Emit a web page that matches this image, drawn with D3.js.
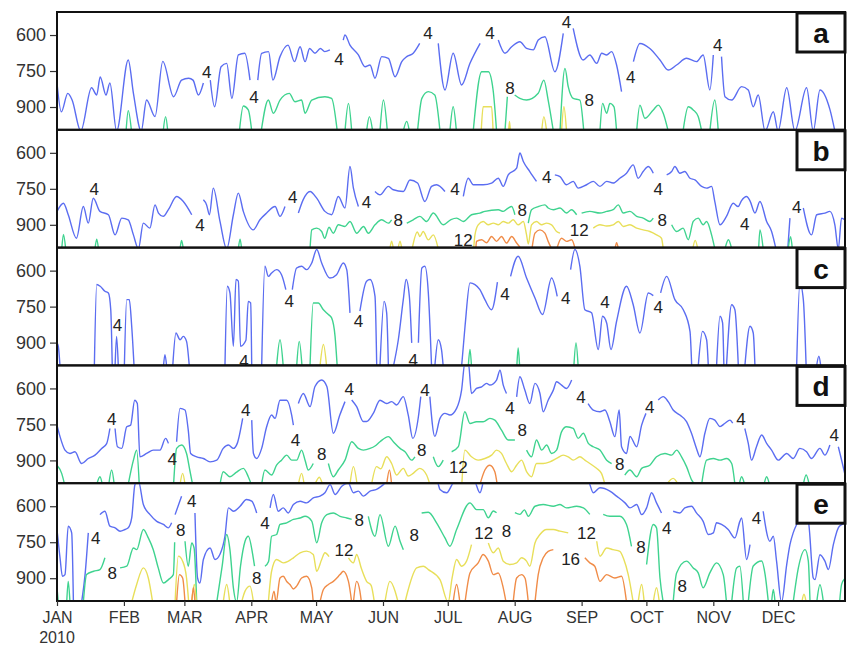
<!DOCTYPE html>
<html lang="en">
<head>
  <meta charset="UTF-8">
  <title>Contour time series</title>
  <style>
    body { margin: 0; background: #fff; }
    svg text { font-family: "Liberation Sans", Arial, sans-serif; }
  </style>
  <script src="https://d3js.org/d3.v7.min.js"></script>
</head>
<body>
<div id="chart"></div>
<script>
  // Month ticks (day of year, 2010) and labels
  var monthDays = [0, 31, 59, 90, 120, 151, 181, 212, 243, 273, 304, 334];
  var monthLabels = ["JAN", "FEB", "MAR", "APR", "MAY", "JUN", "JUL", "AUG", "SEP", "OCT", "NOV", "DEC"];
  var yearLabel = "2010";
  var pressureTicks = [600, 750, 900];
  var panelNames = ["a", "b", "c", "d", "e"];

  // Contour lines as [day of year, hPa]; null breaks the line
  var a4 = [[0,800],[2,920],[5,843],[7,871],[11,1000],[16,820],[18.4,850],[20,775],[22.7,850],[24.5,800],[27.6,1000],[33,704],[35.4,843],[39,1000],[41.5,871],[45.4,940],[49,710],[54,857],[57.7,788],[61,780],[63,788],[65.5,850],[67.8,800],null,
    [71,788],[73,899],[76,732],[78.6,718],[81,864],[84,683],[87,676],[89.4,788],null,
    [93,788],[94.8,676],[98,669],[100,788],[103.3,690],[107,642],[110,711],[112.6,649],[114.9,711],[117,656],[119.5,676],[122,656],[124,669],[126.4,662],null,
    [132.6,621],[133.4,600],[135.7,642],[139.6,683],[142.7,732],[145,725],[147.3,780],[150.4,690],[153.5,697],[156.6,774],[159.7,711],[162,690],[165,676],[168,635],null,
    [176.6,635],[179.7,829],[183.5,676],[187.4,808],[191.3,718],[196,635],null,
    [204.4,621],[207.5,676],[210.6,649],[214.4,628],[217.5,656],[220.6,662],[222.9,621],[226,607],[230.6,753],[234.5,593],null,
    [239.1,572],[243.7,704],[246.8,683],[250,718],[252.3,676],[254.6,683],[256.9,669],[259.2,725],[261.5,836],null,
    [267,711],[270,635],[274.6,656],[279.3,704],[283.1,746],[287,725],[291.6,697],[296.2,711],[299.3,683],[302.4,829],[304,683],null,
    [307.8,690],[309.4,857],[312.5,871],[317.1,815],[320.2,829],[322.5,899],[324.8,850],[328,1000],[331.8,920],[334,1000],[338,820],[341.8,1000],[347.2,820],[350.3,1000],[353.4,829],[358,910],[360.3,1000]];
  var a8 = [[32,1000],[33,915],[34.5,1000],null,
    [49.2,1000],[50.3,940],[51.3,1000],null,
    [84.5,1000],[86.3,896],[88.6,912],[90.2,1000],null,
    [94.6,1000],[97.9,871],[100.2,926],[103.3,871],[107.6,843],[110.2,878],[113.3,871],[114.9,926],[118,871],[124.1,857],[127.2,864],[129.8,1000],null,
    [133.4,1000],[135,885],[136.5,1000],null,
    [143.4,1000],[144.7,940],[146.2,1000],null,
    [149.6,1000],[151.2,871],[153,1000],null,
    [160.4,1000],[162,960],[163.2,1000],null,
    [167,1000],[169,864],[172,836],[175,850],[177.4,1000],null,
    [182,1000],[183.5,899],[185,1000],null,
    [192.8,1000],[196.7,753],[199.8,753],[202,829],[203.6,1000],null,
    [207.5,1000],[208.6,857],null,
    [212,850],[214.4,864],[217.5,871],[222.9,843],[225.5,788],[227.5,871],[229.9,1000],null,
    [233,1000],[235.3,739],[236.8,815],[239.1,864],[242.2,871],[244,1000],null,
    [251.5,1000],[252.7,885],[254.6,926],[256.1,885],[258,899],[259.2,1000],null,
    [268.5,1000],[270,892],[272.3,947],[276.2,912],[278.5,892],[280.8,926],[283.1,1000],null,
    [290,1000],[292.4,899],[294.7,912],[297,940],[298.6,1000],null,
    [302.4,1000],[304.7,871],[306.3,1000]];
  var a12 = [[196.5,1000],[197.4,899],[201.3,899],[202,1000],null,
    [209.2,1000],[209.6,960],[210,1000],null,
    [224.5,1000],[225.5,940],[226.8,1000],null,
    [233.7,1000],[234.8,899],[236,1000]];

  var b4 = [[0,844],[3,810],[5.2,858],[9,956],[12.2,824],[14.5,893],[16.8,789],[19.9,844],[23.8,858],[26.9,942],[30,872],[33,879],[35.4,942],[37.7,1000],[40,893],[43,914],[45.4,817],[47,851],[49.2,865],[51.6,837],[55.4,782],[58.5,803],[62.4,858],null,
    [67.8,796],[69.3,817],[70.6,858],[72.4,747],[75.5,886],[78.6,1000],[81.7,858],[84,768],[86.3,844],[90.9,921],[94,879],[97.1,851],[101,824],[103.3,865],[105.6,824],null,
    [111.8,851],[114,796],[117.2,761],[120.3,789],[124.1,844],[127.2,858],[130.3,782],[133.4,830],[135.7,657],[137.3,747],[139.6,824],null,
    [147.3,761],[149.6,775],[153.5,740],[155.8,754],[160.4,761],[163.5,713],[167,726],[170.4,803],[173.5,740],[175.8,733],[179.7,761],null,
    [188.2,782],[190.5,706],[192.8,733],[197.4,733],[201.3,726],[204.4,706],[206.7,740],[209,692],[212.9,664],[214.4,601],[216,636],[219,678],[222.1,719],null,
    [230.6,692],[233,699],[236,733],[239.1,719],[241.4,747],[245.3,733],[248.4,719],[251.5,740],[254.6,719],[257.6,726],[260.7,706],[263.8,685],[266.9,650],[269.2,706],[271.5,678],[273.9,657],[276.2,685],null,
    [282.4,692],[284.7,678],[286.2,657],[288.5,685],[290.8,678],[293.2,706],[295.5,713],[298.6,740],[300.9,747],[303.2,740],[304.7,803],[307.1,900],[310.1,865],[313.2,810],[315.5,824],[317,800],[319.4,782],[321,800],[323.3,851],[325.6,803],[328.7,886],[331,928],[333,1000],null,
    [338.5,1000],[339.5,872],null,
    [345.7,830],[349.5,942],[351.9,858],[355.7,851],[358,844],[360.3,900],[361.9,1000],[363.4,872],[365,880]];
  var b8 = [[2.2,1000],[3,940],[4,1000],null,
    [17.6,1000],[18.4,960],[19.2,1000],null,
    [57,1000],[57.7,965],[58.5,1000],null,
    [84,1000],[84.8,960],[85.5,1000],null,
    [117.2,1000],[118,921],[120.3,914],[122.6,928],[124,956],[126,910],[128,935],[130.3,900],[133.4,907],[135.7,886],[138.8,935],[142,907],[144.2,935],[147.3,900],[150.4,879],[153.5,893],[155,879],null,
    [162,893],[165,879],[168.1,865],[171.2,886],[174.3,851],[178.9,900],[182.5,878],[185.1,872],[188.2,886],[192,858],[195.9,851],[198.2,844],[204.4,837],[206.7,844],[209,830],[210.6,824],[212.1,858],null,
    [218.3,893],[219.8,837],[222.9,824],[226,817],[227.5,830],[229.9,837],[233,830],[236,851],[238.3,837],[240.7,858],null,
    [243,851],[246.8,844],[251.5,851],[254.6,844],[257.6,837],[260,817],[262.3,851],[265.4,844],[268.5,865],[271.5,872],[274.6,886],[276.2,872],null,
    [284.7,900],[287,928],[290,914],[292.4,962],[294.7,886],[297,872],[299.3,900],[300.9,886],[303.2,942],[304.7,1000],null,
    [309.4,1000],[311,962],[312.5,1000],null,
    [325,1000],[325.6,921],[327.1,1000],null,
    [338.7,1000],[339.8,950],[340.6,1000]];
  var b12 = [[154.2,1000],[155,968],[155.8,1000],null,
    [158,1000],[158.9,968],[159.7,1000],null,
    [164.5,1000],[166.9,930],[168.1,949],[169.6,928],[172,963],[174.3,942],[176.6,1000],null,
    [193,1000],[193.6,942],[195.1,900],[197.4,886],[199.8,900],[202.1,893],[204.4,900],[206.7,886],[209,893],[211.3,879],[213.6,900],[216,886],[217.5,942],[218.3,980],[219.8,900],[222.1,886],[224.5,900],[226.8,893],[229.1,900],[231.4,928],[233,935],null,
    [248.4,914],[251.5,900],[254.6,905],[257.6,900],[260,886],[262.3,907],[265.4,900],[268.5,914],[271.5,921],[274.6,928],[277.7,942],[280,956],[280.8,1000],null,
    [294.5,1000],[295.6,965],[296.8,1000]];
  var b16 = [[194,1000],[194.3,969],[196.7,962],[199,975],[201.3,949],[203.6,969],[205.9,949],[208.2,976],[210.6,949],[212.9,976],[215,1000],null,
    [220,1000],[221.4,935],[223.7,921],[226,935],[227.5,969],[229.1,1000],null,
    [231.5,1000],[233.7,956],[236,969],[238.4,962],[240,1000],null,
    [258.5,1000],[259.2,975],[260,1000]];

  var c4 = [[0,901],[0.6,915],[1.4,1000],null,
    [17.3,1000],[18.4,658],[20,665],[22.2,686],[23.8,693],[24.9,763],[25.6,1000],null,
    [26.9,1000],[27.6,874],[28.4,1000],null,
    [31.2,1000],[32.3,721],[33.5,721],[34.6,832],[35.7,1000],null,
    [49.3,1000],[50,950],[50.8,1000],null,
    [53.6,1000],[55.1,860],[57,888],[58.5,874],[60,895],[61.3,1000],null,
    [77.8,1000],[78.9,665],[80.1,693],[81.7,915],[82.9,637],[84,644],[85,915],[87.5,890],[88.6,728],[89.7,735],[90.2,1000],null,
    [94.8,1000],[96.3,582],[97.9,624],[99.4,610],[101.7,596],[104,617],[106,679],null,
    [109,679],[111,589],[113.3,582],[115.6,596],[118,568],[120.3,512],[122.6,568],[126.4,631],[129.5,617],[132.6,568],[134.2,596],[135.7,776],null,
    [140.3,769],[143.4,644],[145,637],[147.3,707],[148.1,1000],null,
    [149.6,1000],[151.5,728],[152.7,776],[153.5,1000],null,
    [155.8,1000],[158.1,888],[160.4,721],[161.7,637],[163.2,707],[164.3,901],null,
    [167.4,901],[169,589],[170.4,582],[172,693],[173.5,1000],null,
    [175,1000],[176.6,888],[178.1,929],[178.9,1000],null,
    [187.4,1000],[189,832],[191.3,651],[193.6,658],[195.9,679],[198.2,721],[201.3,763],[204,648],null,
    [210.1,624],[213.6,540],[217.5,631],[221.4,714],[224.9,783],[229.1,631],[231.7,707],null,
    [237.9,596],[239.9,512],[242.2,582],[244.5,763],[247.6,776],[250.7,929],[252.7,790],[254.6,818],[256.6,929],[259.2,811],[263.8,665],[266.9,742],[270,860],[273.9,693],[276.2,704],null,
    [279.6,693],[282.4,624],[286.2,721],[290.1,763],[293.2,853],[294,1000],null,
    [297,1000],[299,853],[300.9,888],[301.7,1000],null,
    [305.5,1000],[307.1,790],[308.3,818],[308.9,1000],null,
    [310.1,1000],[312.5,742],[314,763],[315.6,1000],null,
    [318.6,1000],[321,832],[322.5,860],[323.3,1000],null,
    [342.6,1000],[344.1,651],[345.7,721],[347,1000],null,
    [351.8,1000],[352.9,957],[353.8,1000]];
  var c8 = [[101.7,1000],[103.3,888],[104.8,1000],null,
    [111,1000],[112.2,895],[113.5,1000],null,
    [117.2,1000],[118.7,735],[121,735],[123.4,763],[125.7,783],[127.2,797],[128.8,874],[129.8,1000],null,
    [190.5,1000],[191.3,929],[192,1000],null,
    [213,1000],[213.6,922],[214.3,1000],null,
    [239.4,1000],[240.4,901],[241.4,1000]];
  var c12 = [[121.8,1000],[123.4,908],[124.9,1000]];

  var d4 = [[0,753],[1.4,801],[3.7,857],[6,871],[8.3,864],[11.4,913],[14.5,892],[17.6,878],[20.7,850],[23,830],[24.5,767],null,
    [26.9,767],[28,843],[30,850],[32.3,760],[34.1,753],[36,649],[37.2,663],[38.4,885],[41.5,871],[44.6,857],[47.7,857],[50.3,808],[51.6,829],null,
    [55.4,822],[57,683],[59.3,690],[60.8,774],[61.9,871],[64.7,885],[67.8,892],[70.9,906],[74,899],[77,850],[79.4,836],[81.7,850],[83.5,829],[86,725],null,
    [90.2,732],[91,871],[92.5,892],[94.8,850],[97.1,760],[99.4,711],[101,725],[103.3,649],[106.4,649],[108.7,711],[109.5,753],null,
    [111.8,663],[114.1,621],[117.2,676],[119.5,592],[122.6,565],[125,592],[128,787],[131,711],[133.4,655],null,
    [136.5,648],[138.8,676],[141.9,738],[143.4,738],[146.5,704],[149.6,649],[152.7,663],[155,655],[157.3,669],[160.4,634],[162.7,711],[164.8,808],[167.4,718],[168.5,634],null,
    [172.7,634],[175,800],[177.4,725],[179.7,704],[182,711],[185.1,683],[187.4,607],[189,490],[190.5,490],[192,621],[194.3,600],[196.7,593],[199,579],[200.5,586],[203.6,565],[205.2,524],[206.7,586],[208.2,621],null,
    [212.9,635],[214.4,551],[216.7,607],[219,663],[221.4,579],[223.7,621],[225.2,697],[227.5,649],[229.9,607],[231.4,572],[233.7,586],[236,600],[238.4,565],null,
    [246,663],[248.4,690],[251.5,697],[253.8,690],[256.1,739],[258.4,801],[260.4,690],[261.5,843],[263.8,871],[265.4,800],[268.5,843],[270.8,753],[272.8,704],null,
    [278.5,648],[280.8,634],[283.1,655],[285.4,690],[288.5,711],[291.6,738],[293.9,787],[296.2,850],[297.8,885],[300.1,787],[302.4,725],[304.7,732],[307.1,759],[309.4,745],[311.7,732],[313,745],null,
    [318.6,767],[320.2,829],[321.7,899],[324,843],[326.4,794],[328.7,829],[331,857],[334.1,899],[338,871],[341,892],[344.1,850],[347.2,864],[349.5,892],[353.4,850],[355.7,878],[358,836],null,
    [361.9,843],[364.5,940],[365,960]];
  var d8 = [[0,920],[2.2,955],[3.5,1000],null,
    [18.4,1000],[19.9,968],[21,1000],null,
    [24,1000],[25.3,940],[26.5,1000],null,
    [33,1000],[35.4,899],[36.9,857],[38.1,1000],null,
    [54,1000],[55.4,850],[57.7,836],[60,871],[61.5,940],[62.8,1000],null,
    [75.5,1000],[77,947],[80.1,968],[83,950],[86.3,933],[88.6,968],[90,1000],null,
    [94.8,1000],[96.3,940],[99.4,961],[101.7,920],[104,899],[106.4,878],[108.7,899],[111,899],[113.3,857],[114.9,899],[116.4,940],[118.7,913],null,
    [125.7,913],[128,968],[130.3,940],[133.4,899],[136.5,822],[139.6,850],[141.9,857],[145,850],[147.3,840],[149.6,822],[153.5,801],[155.8,822],[158.9,850],[161.2,864],[164.3,899],[165.8,885],null,
    [174.3,885],[176.6,926],[178.9,899],null,
    [182.8,864],[185.9,843],[188.9,697],[191.3,746],[194.3,739],[197.4,739],[200.5,725],[202.8,732],[205.9,774],[209,815],[212.1,815],null,
    [217.5,857],[219.8,885],[222.1,815],[224.5,857],[226.8,836],[229.1,871],[231.4,857],[233.7,781],[236,760],[239.1,767],[241.4,808],[243.8,787],[246.1,829],[248.4,843],[251.5,857],[254.6,899],[256.9,913],null,
    [263,961],[265.4,940],[268.5,968],[270.8,933],[274.6,920],[277.7,885],[281.6,871],[284.7,878],[287,857],[289.3,885],[291.6,926],[294,982],[295.5,1000],null,
    [298.6,1000],[300.9,899],[304,892],[307.1,899],[310.1,892],[312.5,913],[314,1000],null,
    [316,1000],[317.1,968],[318.5,1000],null,
    [327.5,1000],[328.7,968],[330,1000],null,
    [345.7,1000],[347,961],[348.4,1000]];
  var d12 = [[57,1000],[58.2,954],[59.3,1000],null,
    [111.8,1000],[113.3,954],[114.5,1000],null,
    [119.5,1000],[121.5,970],[123,1000],null,
    [135.7,1000],[137.3,926],[139,1000],null,
    [145.7,1000],[148,926],[150,935],[152.7,885],[155,913],[157.3,961],[160.4,933],[162.7,965],[165,954],[168,933],[171.2,961],[172.7,1000],null,
    [187.5,1000],[188.9,857],[192,885],[195.1,899],[198.2,892],[201.3,878],[203.6,857],[205.9,871],[208.2,913],[210.6,947],[212.9,920],[215.2,899],[217.5,947],[219.8,968],[222.1,913],[225.2,913],[228.3,906],[231.4,892],[234.5,878],[236.8,885],[239.1,899],[242.2,885],[244.5,899],[246.8,913],[249.9,933],[252.2,954],[253.8,1000],null,
    [282.4,1000],[285.4,975],[287.7,1000]];
  var d16 = [[152.7,1000],[154,940],[155,1000],null,
    [195.9,1000],[198.2,940],[200.5,920],[202.8,947],[203.9,1000]];

  var e4 = [[0,697],[1.4,815],[2.5,892],[3.7,885],[5.2,683],[6.8,711],[7.6,1000],null,
    [11.4,1000],[13,885],[14.5,711],null,
    [19.9,635],[22.2,621],[24.5,683],[26.9,690],[29.2,704],[31.5,697],[33,690],[34.6,649],[36.1,510],[37.7,495],[40,593],[43.1,635],[46.2,663],[49.3,676],[51.6,690],[53.1,669],null,
    [54.7,635],[57.7,558],null,
    [63.9,628],[65.1,899],[66.2,920],[67.8,822],[70.9,774],[73.2,822],[75.5,800],[77.8,725],[79.4,607],[81.7,621],[84.8,600],[87.8,572],[90.2,579],[92.5,628],null,
    [98.7,607],[100.2,551],[102.5,621],[104.8,607],[107.1,628],[109.5,593],[112.6,579],[115.6,586],[118.7,565],[121.8,558],[124.1,544],[126.5,510],[128.8,551],[131.9,517],[134.9,503],[137.3,544],[139.6,537],[141.9,558],[145,537],[148,530],[151.2,510],[154,490],[166,490],[168.1,503],[172,490],[176,495],[177.4,530],[180.5,544],[183.5,503],[186,490],[193,490],[195.9,544],[198,490],[232,490],[234.5,503],[240,490],[246,495],[248.4,544],[251.5,523],[256.1,537],[259.2,558],[263.1,586],[265.4,607],[268.5,593],[270.8,635],[273.1,607],[275.4,544],[277.7,586],[280,628],null,
    [285.4,621],[288.5,628],[290.8,607],[293.9,600],[296.2,628],[299.3,663],[301.7,718],[304,711],[305.5,669],[307.8,676],[310.9,697],[314,732],[316.3,663],[317.1,649],[319.4,822],[321,760],null,
    [327.1,621],[330.2,746],[331.8,725],[333.3,829],[335.6,1000],[338,843],[339.5,760],[341,711],[342.6,676],[345,640],[348,663],[350.3,899],[351.1,906],[353.4,802],[355.7,829],[357.3,864],[359.6,760],[361.9,690],[363.4,677],[365,670]];
  var e8 = [[0,940],[0.6,1000],null,
    [4.5,1000],[5.2,913],[6,1000],null,
    [12.2,1000],[13.7,885],[17,871],[19.9,864],[22.2,815],null,
    [29.2,857],[32.3,850],[35.4,774],[36.9,781],[40,697],[42.3,732],[44.6,781],[46.9,857],[49.3,920],[51.6,906],[53.9,885],[54.5,750],null,
    [59.3,746],[60.8,850],[62.4,753],[63.5,774],[64.7,1000],null,
    [74,1000],[76.5,850],[78.6,718],[80.1,781],[81.7,940],[83.2,1000],[85,850],[87.1,746],[88.6,725],[90.9,815],[91.5,850],null,
    [96.3,850],[98,830],[99.4,725],[101.7,718],[103.3,676],[106.4,669],[109.5,655],[112.6,649],[114.9,642],[118,662],[120.3,752],[122.6,669],[125,635],[128,628],[131.1,642],[134.2,649],[136.5,655],null,
    [144.2,642],[147.3,725],[149.6,635],[153.5,767],[156.6,683],[158.9,746],[160.4,781],null,
    [168.9,628],[172,625],[175.8,669],[179.7,732],[182,767],[185.1,697],[191.3,586],[194.3,614],[197.4,614],[199.8,648],[202.1,620],[203.6,627],null,
    [212.1,627],[214.4,634],[216.5,615],[218.3,642],[221.4,600],[225.2,593],[229.9,600],[233,593],[236,607],[240.7,600],[243.8,607],[246.8,634],null,
    [253,634],[256.1,642],[260.7,642],[263.8,676],[266.1,767],null,
    [273.1,843],[276.2,676],[277.7,690],[279.3,899],[280.8,1000],null,
    [285.4,1000],[287,878],[291.6,829],[294.7,857],[297,878],[299.3,940],[302.4,878],[305.5,836],[308.6,885],[310.1,1000],null,
    [312.5,1000],[314.8,857],[316.3,850],[317.9,1000],null,
    [320.2,1000],[322.5,849],[326.4,828],[328,885],[329.5,1000],null,
    [331,1000],[331.8,947],[332.6,1000],null,
    [341,1000],[343.4,857],[346.5,781],[348,828],[348.8,1000],null,
    [351.9,1000],[353.4,927],[355,1000],null,
    [362.5,1000],[363.4,927],[365,900]];
  var e12 = [[34.6,1000],[36.9,926],[40,857],[42.3,899],[44.3,1000],null,
    [54.7,1000],[56.2,808],[58.2,829],[60,899],[61,1000],null,
    [62.4,1000],[63.6,926],[64.6,1000],null,
    [77,1000],[78.6,926],[80,1000],null,
    [85.5,1000],[87.1,954],[89.4,933],[91,1000],null,
    [97.9,1000],[99.4,871],[101.7,822],[104.8,836],[107,830],[109.5,815],[112.6,794],[115.6,787],[118.7,801],[120.3,871],[122.6,822],[124.1,794],[126,810],null,
    [135,815],[137.3,836],[138.8,801],[141,860],[143.4,913],[145.5,930],[147,1000],null,
    [151.9,1000],[154.2,913],[156.6,954],[158,1000],null,
    [161.2,1000],[162.7,947],[166.6,857],[169.7,850],[172,864],[177.4,906],[181.2,1000],[183,900],[185.1,822],[187.4,850],[189.7,829],[192,760],null,
    [199.8,753],[202.1,794],[204.4,774],[206.7,829],[209.8,843],[212.9,836],[215.2,815],[217.5,829],[219,850],[221.4,753],[223.7,718],[226.8,697],[229.9,697],[233,704],[236.8,711],null,
    [250,746],[251.5,808],[254.6,774],[257.6,781],[260.7,788],[262.5,820],[264.6,885],[266.9,1000],null,
    [269.2,1000],[270.8,926],[272,1000],null,
    [276.2,1000],[277.7,940],[279,1000],null,
    [345,1000],[346,967],[347,1000]];
  var e16 = [[55.4,1000],[56.7,885],[58.2,899],[59.3,1000],null,
    [62.4,1000],[63.2,940],[63.9,1000],null,
    [99.4,1000],[100.5,954],[101.5,1000],[103.3,899],[104.8,892],[106.5,915],[107.9,926],[109.5,945],[111,933],[113.3,899],[115.6,892],[118,940],[118.7,1000],null,
    [121.8,1000],[123.4,947],[125.7,926],[128,913],[131.1,885],[132.6,871],[135,913],[136.5,1000],null,
    [137.3,1000],[138.8,913],[140.3,954],[141,1000],null,
    [183.5,1000],[185.1,926],[186.6,1000],null,
    [189,1000],[191.3,878],[195.1,836],[197.4,801],[199.8,829],[202.1,885],[204.4,878],[206.7,940],[208,1000],null,
    [211.3,1000],[212.9,899],[215.2,885],[216.8,900],[218.3,1000],null,
    [221.4,1000],[222.9,885],[225.2,815],[227.5,788],[229.9,781],null,
    [244.5,815],[246.8,836],[249.1,850],[251.5,913],[254.6,885],[258.4,899],[261.5,892],[263.8,1000]];

  // Contour labels: [day, hPa, text]
  var labelsA = [[69.3,753,"4"],[91.2,857,"4"],[130.6,701,"4"],[171.8,593,"4"],[200.5,593,"4"],[236,544,"4"],[265.7,774,"4"],[306,642,"4"],[209.8,822,"8"],[246.5,871,"8"]];
  var labelsB = [[17.3,749,"4"],[66.2,901,"4"],[109.2,783,"4"],[143.4,804,"4"],[184.3,749,"4"],[226.8,700,"4"],[278.5,749,"4"],[318.6,897,"4"],[342.6,825,"4"],[158.1,881,"8"],[215.5,839,"8"],[280.3,881,"8"],[188.2,964,"12"],[241.9,922,"12"]];
  var labelsC = [[28,825,"4"],[86.6,978,"4"],[107.6,725,"4"],[139.6,808,"4"],[165,971,"4"],[207.5,697,"4"],[235.6,714,"4"],[253.8,731,"4"],[278.5,752,"4"]];
  var labelsD = [[25.3,725,"4"],[53.4,894,"4"],[87.4,690,"4"],[110.5,815,"4"],[135.4,600,"4"],[170.4,604,"4"],[209.8,683,"4"],[242.7,635,"4"],[274.6,676,"4"],[316.8,725,"4"],[360,794,"4"],[122.6,871,"8"],[169,857,"8"],[215.5,774,"8"],[260.7,913,"8"],[185.9,929,"12"]];
  var labelsE = [[17.9,732,"4"],[62.4,579,"4"],[96.3,669,"4"],[282.4,690,"4"],[324,649,"4"],[25.6,878,"8"],[57.3,697,"8"],[92.5,899,"8"],[140,657,"8"],[165.5,719,"8"],[208.2,704,"8"],[270.5,768,"8"],[289.6,933,"8"],[132.9,781,"12"],[197.7,711,"12"],[245.3,711,"12"],[237.9,818,"16"]];

  var levelColor = {"4": "#5b6df1", "8": "#3fd38f", "12": "#e8df5a", "16": "#f08c48"};

  var panels = [
    {lines: [["4", a4], ["8", a8], ["12", a12]], labels: labelsA},
    {lines: [["4", b4], ["8", b8], ["12", b12], ["16", b16]], labels: labelsB},
    {lines: [["4", c4], ["8", c8], ["12", c12]], labels: labelsC},
    {lines: [["4", d4], ["8", d8], ["12", d12], ["16", d16]], labels: labelsD},
    {lines: [["4", e4], ["8", e8], ["12", e12], ["16", e16]], labels: labelsE}
  ];

  // Layout
  var width = 848, height = 646;
  var left = 57, right = 845, top0 = 12, panelH = 117.8;

  var x = d3.scaleLinear().domain([0, 365]).range([left, right]);

  var svg = d3.select("#chart").append("svg")
      .attr("width", width)
      .attr("height", height);

  panels.forEach(function(p, i) {
    var top = top0 + i * panelH;
    var y = d3.scaleLinear().domain([504, 995]).range([top, top + panelH]);
    var g = svg.append("g");

    g.append("clipPath").attr("id", "clip" + i)
      .append("rect")
        .attr("x", left).attr("y", top)
        .attr("width", right - left).attr("height", panelH);

    var inner = g.append("g").attr("clip-path", "url(#clip" + i + ")");

    // smooth the digitised contours a little, without overshoot
    var line = d3.line()
        .defined(function(d) { return d !== null; })
        .curve(d3.curveMonotoneX)
        .x(function(d) { return x(d[0]); })
        .y(function(d) { return y(d[1]); });

    p.lines.forEach(function(l) {
      inner.append("path")
          .datum(l[1])
          .attr("d", line)
          .attr("fill", "none")
          .attr("stroke", levelColor[l[0]])
          .attr("stroke-width", 1.4)
          .attr("stroke-linejoin", "round");
    });

    inner.selectAll("text.lab")
      .data(p.labels)
      .join("text")
        .attr("class", "lab")
        .attr("x", function(d) { return x(d[0]); })
        .attr("y", function(d) { return y(d[1]); })
        .attr("dy", "0.36em")
        .attr("text-anchor", "middle")
        .attr("font-size", 17)
        .attr("fill", "#222")
        .text(function(d) { return d[2]; });

    // y axis
    var yAxis = g.append("g")
        .attr("transform", "translate(" + left + ",0)")
        .call(d3.axisLeft(y).tickValues(pressureTicks).tickSize(7).tickPadding(4));
    yAxis.select(".domain").remove();
    yAxis.selectAll("line").attr("stroke", "#333").attr("stroke-width", 1.2);
    yAxis.selectAll("text").attr("font-size", 18).attr("fill", "#333");

    // panel frame
    g.append("rect")
        .attr("x", left).attr("y", top)
        .attr("width", right - left).attr("height", panelH)
        .attr("fill", "none")
        .attr("stroke", "#111")
        .attr("stroke-width", 2);

    // panel letter box
    g.append("rect")
        .attr("x", 797).attr("y", top + 1)
        .attr("width", right - 797).attr("height", 39)
        .attr("fill", "#fff")
        .attr("stroke", "#111")
        .attr("stroke-width", 3);
    g.append("text")
        .attr("x", 821).attr("y", top + 21)
        .attr("dy", "0.36em")
        .attr("text-anchor", "middle")
        .attr("font-size", 28)
        .attr("font-weight", "bold")
        .attr("fill", "#111")
        .text(panelNames[i]);
  });

  // x axis under the last panel
  var bottom = top0 + panels.length * panelH;
  var xAxis = svg.append("g")
      .attr("transform", "translate(0," + bottom + ")")
      .call(d3.axisBottom(x).tickValues(monthDays).tickSize(5).tickPadding(6)
        .tickFormat(function(d, i) { return monthLabels[i]; }));
  xAxis.select(".domain").remove();
  xAxis.selectAll("line").attr("stroke", "#333").attr("stroke-width", 1.2);
  xAxis.selectAll("text").attr("font-size", 16).attr("fill", "#333");

  svg.append("text")
      .attr("x", x(0)).attr("y", bottom + 42)
      .attr("text-anchor", "middle")
      .attr("font-size", 16)
      .attr("fill", "#333")
      .text(yearLabel);
</script>
</body>
</html>
